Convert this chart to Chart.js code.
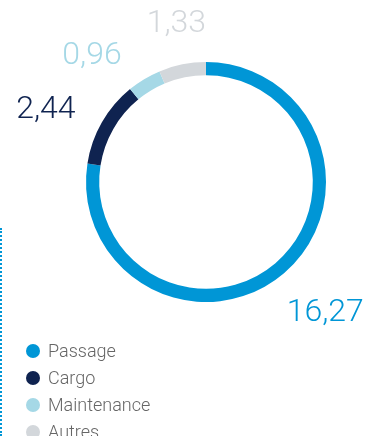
<!DOCTYPE html>
<html>
<head>
<meta charset="utf-8">
<script src="https://cdn.jsdelivr.net/npm/chart.js@4/dist/chart.umd.min.js"></script>
<style>
  html, body { margin: 0; padding: 0; background: #fff; }
  #wrap { position: relative; width: 365px; height: 436px; overflow: hidden; }
  #wrap canvas { position: absolute; left: 0; top: 0; }
  #dots { position: absolute; left: 0; top: 228px; height: 208px; border-left: 2px dotted #0096d6; }
  #legend { position: absolute; left: 26px; top: 337px; margin: 0; padding: 0; list-style: none;
    font-family: Roboto, "Liberation Sans", sans-serif; font-weight: 300; font-size: 18px; color: #666; }
  #legend li { height: 27px; line-height: 20px; display: flex; align-items: center; }
  #legend span { display: inline-block; width: 14px; height: 14px; border-radius: 50%; margin-right: 8px; }
</style>
</head>
<body>
<div id="wrap">
  <canvas id="donut" width="365" height="436"></canvas>
  <div id="dots"></div>
  <ul id="legend"></ul>
</div>
<script>
// revenue split (Md€)
const categories = ['Passage', 'Cargo', 'Maintenance', 'Autres'];
const values = [16.27, 2.44, 0.96, 1.33];
const valueLabels = ['16,27', '2,44', '0,96', '1,33'];
const colors = ['#0096d6', '#0f2350', '#a5d8e6', '#d3d7db'];
// small hand nudges for the outside labels, like in the original layout
const labelNudge = [[12, 6], [-17, 10], [-29, 15], [3, 4]];

// draw the value next to each slice, outside the ring
const outsideLabels = {
  id: 'outsideLabels',
  afterDatasetsDraw(chart) {
    const ctx = chart.ctx;
    const meta = chart.getDatasetMeta(0);
    ctx.save();
    ctx.font = '300 32px Roboto, "Liberation Sans", sans-serif';
    ctx.textAlign = 'center';
    ctx.textBaseline = 'middle';
    meta.data.forEach((arc, i) => {
      const p = arc.getProps(['x', 'y', 'startAngle', 'endAngle', 'outerRadius'], true);
      const mid = (p.startAngle + p.endAngle) / 2;
      const r = p.outerRadius + 45;
      ctx.fillStyle = colors[i];
      ctx.fillText(valueLabels[i],
        p.x + Math.cos(mid) * r + labelNudge[i][0],
        p.y + Math.sin(mid) * r + labelNudge[i][1]);
    });
    ctx.restore();
  }
};

new Chart(document.getElementById('donut'), {
  type: 'doughnut',
  data: {
    labels: categories,
    datasets: [{ data: values, backgroundColor: colors, borderWidth: 0 }]
  },
  options: {
    responsive: false,
    animation: false,
    cutout: '89%',
    layout: { padding: { left: 86, right: 39, top: 62, bottom: 134 } },
    plugins: { legend: { display: false }, tooltip: { enabled: false } }
  },
  plugins: [outsideLabels]
});

const legend = document.getElementById('legend');
categories.forEach((c, i) => {
  const li = document.createElement('li');
  const dot = document.createElement('span');
  dot.style.background = colors[i];
  li.appendChild(dot);
  li.appendChild(document.createTextNode(c));
  legend.appendChild(li);
});
</script>
</body>
</html>
